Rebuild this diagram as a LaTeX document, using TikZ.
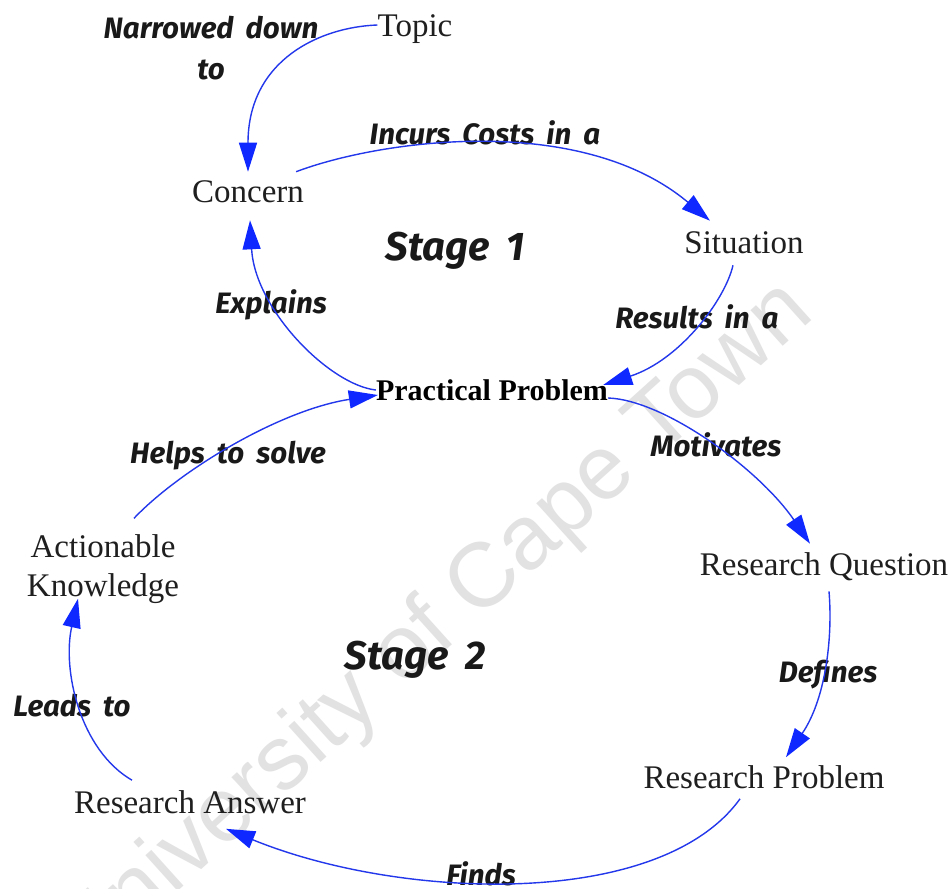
\documentclass[tikz,border=0pt]{standalone}
\usepackage{fontspec}
\setmainfont{Liberation Serif}
\newfontfamily\lblfont{Fira Sans}[WordSpace=1.8]
\newfontfamily\markfont{Liberation Sans}
\usetikzlibrary{arrows.meta}
\definecolor{linkblue}{RGB}{35,55,235}
\definecolor{tipblue}{RGB}{15,40,255}
\definecolor{markgray}{RGB}{226,226,226}
\begin{document}
\begin{tikzpicture}[x=1pt,y=-1pt,
  concept/.style={inner sep=0pt, font=\fontsize{33}{39}\selectfont, text=black!88, align=center},
  keyconcept/.style={inner sep=0pt, font=\fontsize{30}{36}\selectfont\bfseries, text=black},
  linklabel/.style={inner sep=0pt, font=\lblfont\bfseries\itshape\fontsize{29.5}{41}\selectfont, align=center, text=black!90},
  stagelabel/.style={inner sep=0pt, font=\lblfont\bfseries\itshape\fontsize{40}{44}\selectfont, text=black!90},
  link/.style={draw=linkblue, line width=1.4pt, -{Triangle[length=29pt,width=18pt,color=tipblue]}},
]
\useasboundingbox[fill=white] (0,0) rectangle (952,888);

% faint watermark behind the map
\begin{scope}
  \clip (0,0) rectangle (952,888);
  \node[text=markgray, font=\markfont\fontsize{91}{96}\selectfont, rotate=42,
        anchor=base west, inner sep=0pt] (mark) at (86.8,973.2) {University of Cape Town};
\end{scope}

% concepts
\node[concept] (topic) at (415,29) {Topic};
\node[concept] (concern) at (248,192) {Concern};
\node[concept] (situation) at (744,243) {Situation};
\node[keyconcept] (practical) at (492,390) {Practical Problem};
\node[concept] (rquestion) at (824,567) {Research Question};
\node[concept] (rproblem) at (764,777) {Research Problem};
\node[concept] (ranswer) at (190,802) {Research Answer};
\node[concept] (knowledge) at (103,569) {Actionable\\Knowledge};

% stage titles
\node[stagelabel] (stage1) at (455,251) {Stage 1};
\node[stagelabel] (stage2) at (415,660) {Stage 2};

% linking phrases
\node[linklabel] (l-narrow) at (211,48) {Narrowed down\\to};
\node[linklabel] (l-incurs) at (485,133) {Incurs Costs in a};
\node[linklabel] (l-explains) at (271,305) {Explains};
\node[linklabel] (l-results) at (697,317) {Results in a};
\node[linklabel] (l-motivates) at (716,445) {Motivates};
\node[linklabel] (l-helps) at (228,456) {Helps to solve};
\node[linklabel] (l-defines) at (828,675) {Defines};
\node[linklabel] (l-leads) at (72,706) {Leads to};
\node[linklabel] (l-finds) at (481,874) {Finds};

% links
\draw[link] ([yshift=4pt]topic.west) .. controls (320,27) and (248,60) .. ([yshift=9pt]concern.north);
\draw[link] ([xshift=-8pt,yshift=9pt]concern.north east) .. controls (380,140) and (580,112) .. ([xshift=-34pt,yshift=11pt]situation.north);
\draw[link] ([xshift=-11pt,yshift=-11pt]situation.south) .. controls (725,300) and (680,360) .. ([xshift=-5pt,yshift=5pt]practical.east);
\draw[link] (practical.west) .. controls (330,385) and (255,310) .. ([xshift=2pt,yshift=-17pt]concern.south);
\draw[link] ([yshift=-8pt]practical.east) .. controls (665,400) and (760,470) .. ([xshift=-14pt,yshift=9pt]rquestion.north);
\draw[link] ([xshift=5pt,yshift=-10pt]rquestion.south) .. controls (833,640) and (825,700) .. ([xshift=22pt,yshift=8pt]rproblem.north);
\draw[link] ([xshift=-24pt,yshift=-10pt]rproblem.south) .. controls (660,910) and (400,900) .. ([xshift=36pt,yshift=-15pt]ranswer.south);
\draw[link] ([xshift=-58pt,yshift=10pt]ranswer.north) .. controls (80,750) and (62,670) .. ([xshift=-25pt,yshift=5pt]knowledge.south);
\draw[link] ([xshift=31pt,yshift=16pt]knowledge.north) .. controls (180,470) and (280,410) .. ([xshift=2pt,yshift=-5pt]practical.west);
\end{tikzpicture}
\end{document}
